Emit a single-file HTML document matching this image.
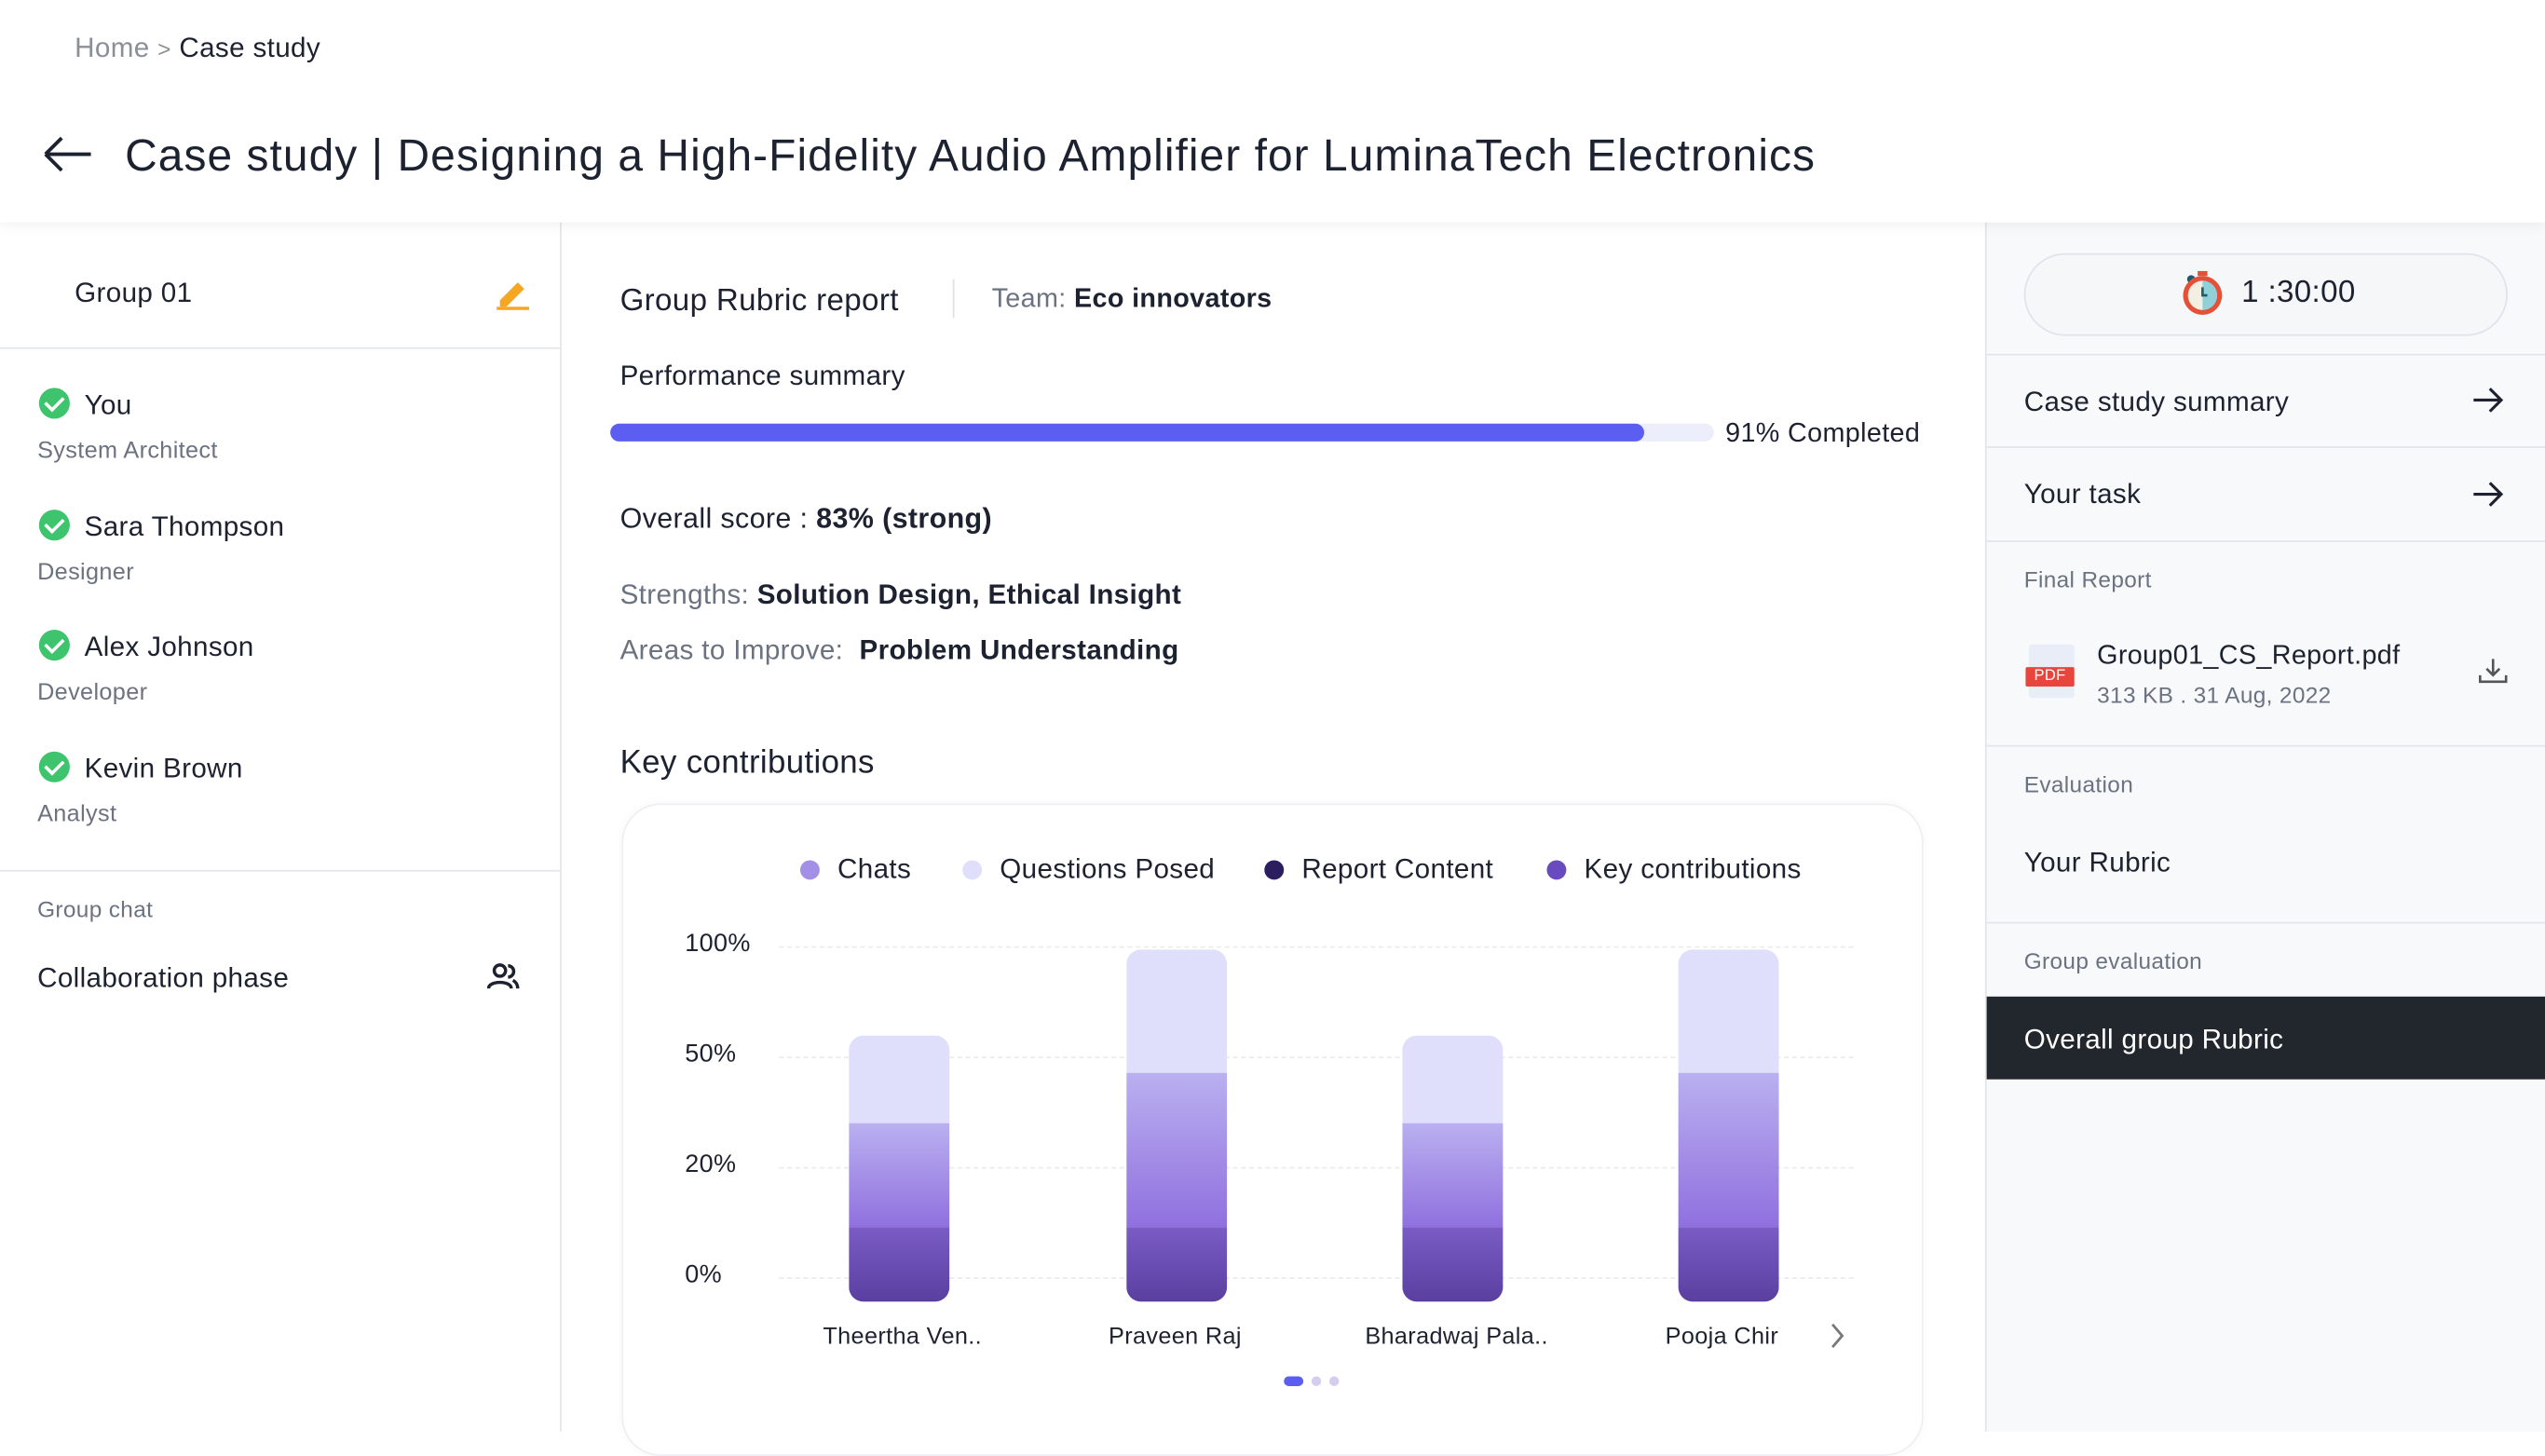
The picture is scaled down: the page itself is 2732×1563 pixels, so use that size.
<!DOCTYPE html>
<html><head><meta charset="utf-8"><style>
html,body{margin:0;padding:0;width:2732px;height:1536px;overflow:hidden;background:#fff}
#s{position:absolute;left:0;top:0;width:1568px;height:882px;transform:scale(1.742347);transform-origin:0 0;font-family:"Liberation Sans",sans-serif;color:#1d2230;letter-spacing:0.2px}
.a{position:absolute;white-space:nowrap;line-height:1;margin-top:1px}
.g{color:#6b7280}
.hl{position:absolute;height:1px;background:#e3e5ea}
.chk{position:absolute;width:19px;height:19px;border-radius:50%;background:#3ec46d}
.chk:after{content:"";position:absolute;left:6px;top:3px;width:5px;height:9px;border:solid #fff;border-width:0 2px 2px 0;transform:rotate(45deg)}
.dot{position:absolute;width:12px;height:12px;border-radius:50%}
.grid{position:absolute;left:480px;width:662px;border-top:1.5px dashed #ececef}
.bar{position:absolute;width:62px;border-radius:9px;overflow:hidden}
.bar div{position:absolute;left:0;width:100%}
</style></head><body><div id="s">
<div style="position:absolute;left:0;top:0;width:1568px;height:137px;background:#fff;box-shadow:0 2px 8px rgba(0,0,0,.06);z-index:2">
<div class="a g" style="left:46px;top:20px;font-size:17px;color:#8a8f98">Home <span style="font-size:14px">&gt;</span> <span style="color:#1d2230">Case study</span></div>
<svg style="position:absolute;left:26px;top:84px" width="31" height="22"><path d="M2 11H30M2 11L12 1M2 11L12 21" stroke="#1d2230" stroke-width="2.2" fill="none"/></svg>
<div class="a" style="left:77px;top:81px;font-size:27.5px;letter-spacing:0.6px">Case study | Designing a High-Fidelity Audio Amplifier for LuminaTech Electronics</div>
</div>
<div style="position:absolute;left:345px;top:137px;width:1px;height:745px;background:#e3e5ea"></div>
<div class="a" style="left:46px;top:171px;font-size:17px">Group 01</div>
<svg style="position:absolute;left:304px;top:168px" width="24" height="24"><path d="M4 17L15 6l4 4L8 21H4z" fill="#f5a623"/><rect x="2" y="21" width="20" height="2" fill="#f5a623"/></svg>
<div class="hl" style="left:0;top:214px;width:345px"></div>
<div class="chk" style="left:24px;top:239px"></div><div class="a" style="left:52px;top:240px;font-size:17px">You</div><div class="a g" style="left:23px;top:270px;font-size:14.5px">System Architect</div>
<div class="chk" style="left:24px;top:314px"></div><div class="a" style="left:52px;top:315px;font-size:17px">Sara Thompson</div><div class="a g" style="left:23px;top:345px;font-size:14.5px">Designer</div>
<div class="chk" style="left:24px;top:388px"></div><div class="a" style="left:52px;top:389px;font-size:17px">Alex Johnson</div><div class="a g" style="left:23px;top:419px;font-size:14.5px">Developer</div>
<div class="chk" style="left:24px;top:463px"></div><div class="a" style="left:52px;top:464px;font-size:17px">Kevin Brown</div><div class="a g" style="left:23px;top:494px;font-size:14.5px">Analyst</div>
<div class="hl" style="left:0;top:536px;width:345px"></div>
<div class="a g" style="left:23px;top:552px;font-size:14px">Group chat</div>
<div class="a" style="left:23px;top:593px;font-size:17px">Collaboration phase</div>
<svg style="position:absolute;left:300px;top:593px" width="20" height="17"><circle cx="8" cy="5" r="3.5" stroke="#1d2230" stroke-width="2" fill="none"/><path d="M1 16c0-5 14-5 14 0" stroke="#1d2230" stroke-width="2" fill="none"/><path d="M13 2a3.5 3.5 0 010 7M16 11c2 1 3 3 3 5" stroke="#1d2230" stroke-width="2" fill="none"/></svg>
<div class="a" style="left:382px;top:175px;font-size:19px">Group Rubric report</div>
<div style="position:absolute;left:587px;top:172px;width:1px;height:24px;background:#dfe1e6"></div>
<div class="a" style="left:611px;top:175px;font-size:16.5px"><span class="g">Team:</span> <b>Eco innovators</b></div>
<div class="a" style="left:382px;top:222px;font-size:17px">Performance summary</div>
<div style="position:absolute;left:376px;top:261px;width:680px;height:11px;border-radius:6px;background:#eceefc"><div style="width:637px;height:11px;border-radius:6px;background:#5b5ef0"></div></div>
<div class="a" style="left:1063px;top:258px;font-size:16.5px">91% Completed</div>
<div class="a" style="left:382px;top:310px;font-size:17.5px">Overall score : <b>83% (strong)</b></div>
<div class="a" style="left:382px;top:357px;font-size:17px"><span class="g">Strengths:</span> <b>Solution Design, Ethical Insight</b></div>
<div class="a" style="left:382px;top:391px;font-size:17px"><span class="g">Areas to Improve:</span>&nbsp; <b>Problem Understanding</b></div>
<div class="a" style="left:382px;top:459px;font-size:20px">Key contributions</div>
<div style="position:absolute;left:383px;top:495px;width:800px;height:400px;border:1px solid #eeeff2;border-radius:24px;box-shadow:0 0 6px rgba(0,0,0,.03)"></div>
<div class="dot" style="left:493px;top:530px;background:#a48fe6"></div><div class="a" style="left:516px;top:526px;font-size:17px">Chats</div>
<div class="dot" style="left:593px;top:530px;background:#dfdffc"></div><div class="a" style="left:616px;top:526px;font-size:17px">Questions Posed</div>
<div class="dot" style="left:779px;top:530px;background:#2b1d5e"></div><div class="a" style="left:802px;top:526px;font-size:17px">Report Content</div>
<div class="dot" style="left:953px;top:530px;background:#6a4bbf"></div><div class="a" style="left:976px;top:526px;font-size:17px">Key contributions</div>
<div class="a" style="left:422px;top:573px;font-size:15.5px">100%</div>
<div class="a" style="left:422px;top:641px;font-size:15.5px">50%</div>
<div class="a" style="left:422px;top:709px;font-size:15.5px">20%</div>
<div class="a" style="left:422px;top:777px;font-size:15.5px">0%</div>
<div class="grid" style="top:583px"></div><div class="grid" style="top:651px"></div><div class="grid" style="top:719px"></div><div class="grid" style="top:787px"></div>
<div class="bar" style="left:523px;top:638px;height:164px"><div style="top:0;height:54px;background:#dfdffc"></div><div style="top:54px;height:64px;background:linear-gradient(#bab0f0,#9070de)"></div><div style="top:118px;height:46px;background:linear-gradient(#7a5cc4,#5a3fa0)"></div></div>
<div class="bar" style="left:694px;top:585px;height:217px"><div style="top:0;height:76px;background:#dfdffc"></div><div style="top:76px;height:95px;background:linear-gradient(#bab0f0,#9070de)"></div><div style="top:171px;height:46px;background:linear-gradient(#7a5cc4,#5a3fa0)"></div></div>
<div class="bar" style="left:864px;top:638px;height:164px"><div style="top:0;height:54px;background:#dfdffc"></div><div style="top:54px;height:64px;background:linear-gradient(#bab0f0,#9070de)"></div><div style="top:118px;height:46px;background:linear-gradient(#7a5cc4,#5a3fa0)"></div></div>
<div class="bar" style="left:1034px;top:585px;height:217px"><div style="top:0;height:76px;background:#dfdffc"></div><div style="top:76px;height:95px;background:linear-gradient(#bab0f0,#9070de)"></div><div style="top:171px;height:46px;background:linear-gradient(#7a5cc4,#5a3fa0)"></div></div>
<div class="a" style="left:507px;top:816px;font-size:14.5px">Theertha Ven..</div>
<div class="a" style="left:683px;top:816px;font-size:14.5px">Praveen Raj</div>
<div class="a" style="left:841px;top:816px;font-size:14.5px">Bharadwaj Pala..</div>
<div class="a" style="left:1026px;top:816px;font-size:14.5px">Pooja Chir</div>
<svg style="position:absolute;left:1127px;top:815px" width="10" height="16"><path d="M2 1l6 7-6 7" stroke="#777" stroke-width="1.6" fill="none"/></svg>
<div style="position:absolute;left:791px;top:848px;width:12px;height:6px;border-radius:3px;background:#5b5ef0"></div>
<div style="position:absolute;left:808px;top:848px;width:6px;height:6px;border-radius:3px;background:#d6cdee"></div>
<div style="position:absolute;left:819px;top:848px;width:6px;height:6px;border-radius:3px;background:#d6cdee"></div>
<div style="position:absolute;left:1223px;top:137px;width:345px;height:745px;background:#f8f9fb;border-left:1px solid #e3e5ea"></div>
<div style="position:absolute;left:1247px;top:156px;width:296px;height:49px;border:1px solid #e1e3e8;border-radius:26px;background:#f6f7f9"></div>
<svg style="position:absolute;left:1342px;top:166px" width="30" height="30"><rect x="12" y="1" width="6" height="3" fill="#e55039"/><circle cx="8" cy="6" r="2.5" fill="#1f5c6b"/><circle cx="15" cy="16" r="12" fill="#e55039"/><circle cx="15" cy="16" r="9" fill="#f3efe2"/><path d="M15 7a9 9 0 010 18z" fill="#8fd0d9"/><path d="M15 11v5h3" stroke="#1f5c6b" stroke-width="1.5" fill="none"/></svg>
<div class="a" style="left:1381px;top:170px;font-size:19px">1 :30:00</div>
<div class="hl" style="left:1224px;top:218px;width:344px"></div>
<div class="a" style="left:1247px;top:238px;font-size:17px">Case study summary</div>
<svg style="position:absolute;left:1523px;top:238px" width="20" height="17"><path d="M1 8.5H18M11 1.5l7 7-7 7" stroke="#1d2230" stroke-width="1.8" fill="none"/></svg>
<div class="hl" style="left:1224px;top:275px;width:344px"></div>
<div class="a" style="left:1247px;top:295px;font-size:17px">Your task</div>
<svg style="position:absolute;left:1523px;top:296px" width="20" height="17"><path d="M1 8.5H18M11 1.5l7 7-7 7" stroke="#1d2230" stroke-width="1.8" fill="none"/></svg>
<div class="hl" style="left:1224px;top:333px;width:344px"></div>
<div class="a g" style="left:1247px;top:349px;font-size:14px">Final Report</div>
<div style="position:absolute;left:1250px;top:397px;width:28px;height:33px;background:#e8edf7;border-radius:2px"></div>
<div class="a" style="left:1248px;top:410px;width:30px;height:12px;background:#e8453c;color:#fff;font-size:9.5px;text-align:center;line-height:12px;border-radius:1px">PDF</div>
<div class="a" style="left:1292px;top:395px;font-size:16.5px">Group01_CS_Report.pdf</div>
<div class="a g" style="left:1292px;top:420px;font-size:14px">313 KB . 31 Aug, 2022</div>
<svg style="position:absolute;left:1527px;top:405px" width="18" height="17"><path d="M9 1v10M5 7l4 4 4-4M1 11v4h16v-4" stroke="#555" stroke-width="1.5" fill="none"/></svg>
<div class="hl" style="left:1224px;top:459px;width:344px"></div>
<div class="a g" style="left:1247px;top:475px;font-size:14px">Evaluation</div>
<div class="a" style="left:1247px;top:522px;font-size:17px">Your Rubric</div>
<div class="hl" style="left:1224px;top:568px;width:344px"></div>
<div class="a g" style="left:1247px;top:584px;font-size:14px">Group evaluation</div>
<div style="position:absolute;left:1224px;top:614px;width:344px;height:51px;background:#22262d"></div>
<div class="a" style="left:1247px;top:631px;font-size:17px;color:#fff">Overall group Rubric</div>
</div></body></html>
